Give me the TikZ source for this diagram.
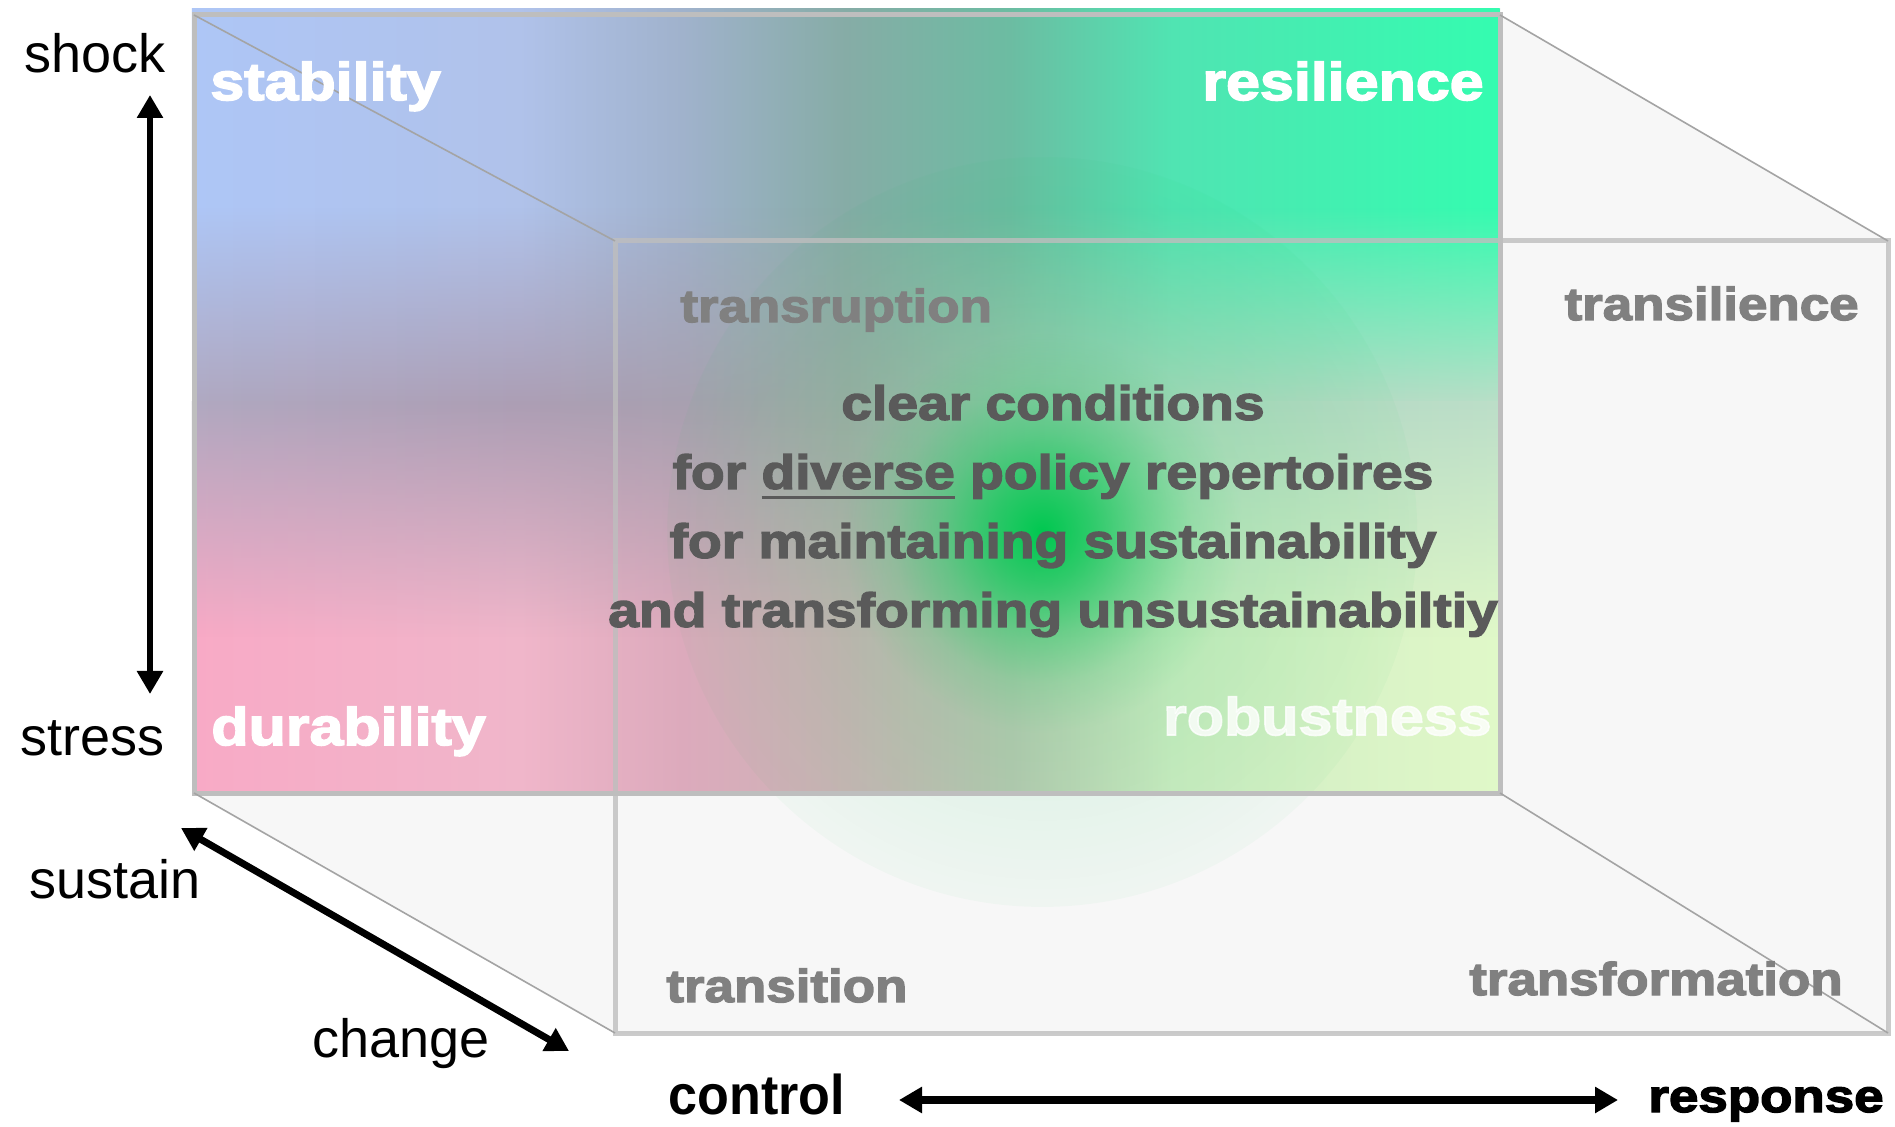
\documentclass[tikz,border=0pt]{standalone}
\usepackage{fontspec}
\setmainfont{Liberation Sans}
\newfontfamily\blackfont{Liberation Sans}[BoldFeatures={FakeStretch=1.15,FakeBold=3}]
\newfontfamily\narrowfont{Liberation Sans}[BoldFeatures={FakeStretch=0.93}]
\usetikzlibrary{arrows.meta,fadings}

\definecolor{boxline}{HTML}{BEBEBE}
\definecolor{boxfill}{HTML}{F7F7F7}
\definecolor{edgeline}{HTML}{A4A4A4}
\definecolor{midgray}{HTML}{808080}
\definecolor{textgray}{HTML}{5A5A5A}
\definecolor{glowgreen}{HTML}{00C850}

% colours of the back face, left to right
\definecolor{topA}{HTML}{AEC6F6}
\definecolor{topB}{HTML}{B0C2EA}
\definecolor{topC}{HTML}{A0B2CC}
\definecolor{topD}{HTML}{86ACA6}
\definecolor{topE}{HTML}{6CBCA2}
\definecolor{topF}{HTML}{50E4B2}
\definecolor{topG}{HTML}{34FCB0}
\definecolor{midA}{HTML}{B0A8C0}
\definecolor{midB}{HTML}{AC9EB4}
\definecolor{midC}{HTML}{A8A0B0}
\definecolor{midD}{HTML}{A2ACA8}
\definecolor{midE}{HTML}{A8C8B4}
\definecolor{midF}{HTML}{B0D8C0}
\definecolor{midG}{HTML}{BCDEC8}
\definecolor{botA}{HTML}{F8AAC6}
\definecolor{botB}{HTML}{F0B6CA}
\definecolor{botC}{HTML}{DCAABC}
\definecolor{botD}{HTML}{CCB4B6}
\definecolor{botE}{HTML}{BCC8B4}
\definecolor{botF}{HTML}{D0ECC4}
\definecolor{botG}{HTML}{E0F8C8}

\pgfdeclarehorizontalshading{toprow}{100bp}{color(0bp)=(topA); color(25bp)=(topA); color(37.5bp)=(topB); color(43.75bp)=(topC); color(50bp)=(topD); color(56.25bp)=(topE); color(62.5bp)=(topF); color(75bp)=(topG); color(100bp)=(topG)}
\pgfdeclarehorizontalshading{midrow}{100bp}{color(0bp)=(midA); color(25bp)=(midA); color(37.5bp)=(midB); color(43.75bp)=(midC); color(50bp)=(midD); color(56.25bp)=(midE); color(62.5bp)=(midF); color(75bp)=(midG); color(100bp)=(midG)}
\pgfdeclarehorizontalshading{botrow}{100bp}{color(0bp)=(botA); color(25bp)=(botA); color(37.5bp)=(botB); color(43.75bp)=(botC); color(50bp)=(botD); color(56.25bp)=(botE); color(62.5bp)=(botF); color(75bp)=(botG); color(100bp)=(botG)}

% fadings for the rows and the green glow
\pgfdeclareverticalshading{uppermask}{100bp}{color(0bp)=(pgftransparent!100); color(25bp)=(pgftransparent!100); color(50bp)=(pgftransparent!0); color(100bp)=(pgftransparent!0)}
\pgfdeclarefading{upperfade}{\pgfuseshading{uppermask}}
\pgfdeclareverticalshading{lowermask}{100bp}{color(0bp)=(pgftransparent!100); color(45bp)=(pgftransparent!100); color(75bp)=(pgftransparent!0); color(100bp)=(pgftransparent!0)}
\pgfdeclarefading{lowerfade}{\pgfuseshading{lowermask}}
\pgfdeclareradialshading{glowmask}{\pgfpointorigin}{color(0bp)=(pgftransparent!0); color(3.3bp)=(pgftransparent!25); color(6.7bp)=(pgftransparent!55); color(10bp)=(pgftransparent!78); color(13.3bp)=(pgftransparent!90); color(24.9bp)=(pgftransparent!97); color(25bp)=(pgftransparent!100); color(50bp)=(pgftransparent!100)}
\pgfdeclarefading{glowfade}{\pgfuseshading{glowmask}}

\newcommand{\ulword}[1]{\setbox0\hbox{#1}\rlap{\rule[-5pt]{\wd0}{1.5pt}}\box0\relax}

\begin{document}
\begin{tikzpicture}[x=0.5pt,y=-0.5pt]

\tikzset{boxedge/.style={boxline, line width=2.5pt},
  diag/.style={edgeline, line width=0.8pt},
  axislabel/.style={inner sep=0pt, anchor=base west, font=\fontsize{27}{32}\selectfont},
  polelabel/.style={inner sep=0pt, text=white, font=\blackfont\bfseries\fontsize{26.5}{32}\selectfont},
  modelabel/.style={inner sep=0pt, text=midgray, font=\blackfont\bfseries\fontsize{23}{28}\selectfont},
  bigarrow/.style={line width=#1, {Triangle[width=12.5pt,length=11.5pt]}-{Triangle[width=12.5pt,length=11.5pt]}}}

\fill[white] (0,0) rectangle (1895,1127);
\useasboundingbox (0,0) rectangle (1895,1127);

% corners of the box
\coordinate (bTL) at (194,15);
\coordinate (bTR) at (1500,15);
\coordinate (bBR) at (1500,793);
\coordinate (bBL) at (194,793);
\coordinate (fTL) at (615,241);
\coordinate (fTR) at (1888,241);
\coordinate (fBR) at (1888,1033);
\coordinate (fBL) at (615,1033);

% side, bottom and front faces
\fill[boxfill] (bTR) -- (fTR) -- (fBR) -- (fBL) -- (bBL) -- cycle;

% back face
\shade[shading=midrow] (192,9) rectangle (1500,406);
\shade[shading=toprow, path fading=upperfade] (192,9) rectangle (1500,406);
\shade[shading=botrow] (192,402) rectangle (1500,793);
\shade[shading=midrow, path fading=lowerfade] (192,402) rectangle (1500,793);
\fill[glowgreen, path fading=glowfade] (1042,532) circle (375);

\draw[boxedge, draw opacity=.8] (fTL) rectangle (fBR);
\draw[boxedge] (bTL) rectangle (bBR);
\foreach \c in {TL,TR,BR,BL}
{
\draw[diag] (b\c) -- (f\c);
}

% corner words
\node[polelabel, anchor=base west] (stability) at (210,100) {stability};
\node[polelabel, anchor=base east] (resilience) at (1484,100) {resilience};
\node[polelabel, anchor=base west] (durability) at (211,745) {durability};
\node[polelabel, anchor=base east, text opacity=.8] (robustness) at (1492,735) {robustness};

\node[modelabel, anchor=base west] (transruption) at (680,322) {transruption};
\node[modelabel, anchor=base east] (transilience) at (1859,320) {transilience};
\node[modelabel, anchor=base west] (transition) at (666,1002) {transition};
\node[modelabel, anchor=base east] (transformation) at (1843,995) {transformation};

\node[inner sep=0pt, align=center, text=textgray, font=\blackfont\bfseries\fontsize{24}{34.5}\selectfont] (conditions) at (1053,511)
  {clear conditions\\for \ulword{diverse} policy repertoires\\for maintaining sustainability\\and transforming unsustainabiltiy};

% axes
\node[axislabel] (shock) at (24,73) {shock};
\node[axislabel] (stress) at (20,755) {stress};
\node[axislabel] (sustain) at (29,898) {sustain};
\node[axislabel] (change) at (312,1057) {change};
\node[inner sep=0pt, anchor=base west, font=\narrowfont\bfseries\fontsize{28}{32}\selectfont] (control) at (668,1114) {control};
\node[inner sep=0pt, anchor=base west, font=\blackfont\bfseries\fontsize{23}{28}\selectfont] (response) at (1648,1112) {response};

\coordinate (shockend) at (150,95);
\coordinate (stressend) at (150,694);
\coordinate (sustainend) at (181,828);
\coordinate (changeend) at (569,1051);
\coordinate (controlend) at (899,1100);
\coordinate (responseend) at (1618,1100);

\draw[bigarrow=3pt] (shockend) -- (stressend);
\draw[bigarrow=3.5pt] (sustainend) -- (changeend);
\draw[bigarrow=4pt] (controlend) -- (responseend);

\end{tikzpicture}
\end{document}
